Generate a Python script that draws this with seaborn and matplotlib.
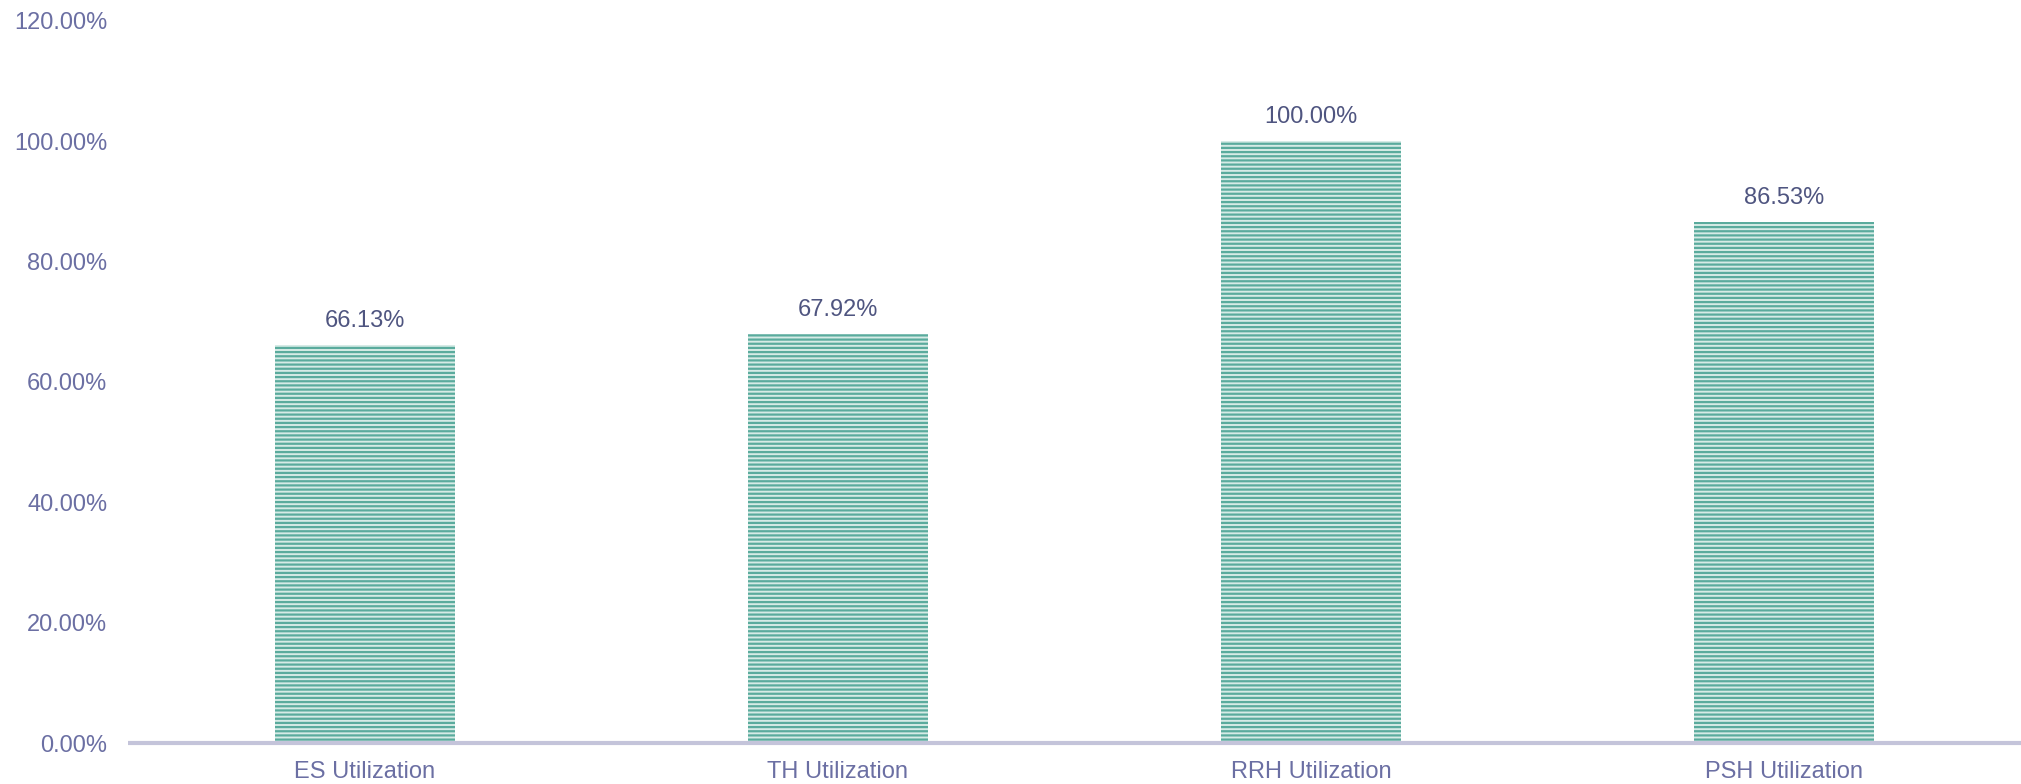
import matplotlib
matplotlib.use("Agg")
import matplotlib.pyplot as plt
import seaborn as sns
import pandas as pd

categories = ["ES Utilization", "TH Utilization", "RRH Utilization", "PSH Utilization"]
values = [0.6613, 0.6792, 1.0000, 0.8653]
value_labels = ["66.13%", "67.92%", "100.00%", "86.53%"]
y_ticks = [0.0, 0.2, 0.4, 0.6, 0.8, 1.0, 1.2]
y_tick_labels = ["0.00%", "20.00%", "40.00%", "60.00%", "80.00%", "100.00%", "120.00%"]

sns.set_theme(style="white")
plt.rcParams['font.family'] = ['Liberation Sans', 'DejaVu Sans']
plt.rcParams['hatch.linewidth'] = 1.6

df = pd.DataFrame({"cat": categories, "val": values})

fig = plt.figure(figsize=(20.21, 7.84), dpi=100)
ax = fig.add_axes([128 / 2021, 41 / 784, 1 - 128 / 2021, (743 - 21) / 784])

sns.barplot(data=df, x="cat", y="val", ax=ax, color="#d6ebe6", width=0.38,
            saturation=1, edgecolor="#5aab9d", linewidth=0)
for p in ax.patches:
    p.set_hatch("----")
    p.set_edgecolor("#5aab9d")
    p.set_linewidth(0)

tick_color = "#6b6fa3"
label_color = "#4f5580"
for i, (v, lab) in enumerate(zip(values, value_labels)):
    ax.annotate(lab, (i, v), xytext=(0, 24), textcoords="offset pixels",
                ha="center", va="center", fontsize=17, color=label_color)

ax.set_ylim(0, 1.2)
ax.set_yticks(y_ticks)
ax.set_yticklabels(y_tick_labels)
ax.set_xlim(-0.5, 3.5)
ax.set_xlabel("")
ax.set_ylabel("")
ax.tick_params(axis="both", length=0, labelsize=17, colors=tick_color)
ax.tick_params(axis="x", pad=13)
ax.tick_params(axis="y", pad=15)
for s in ["top", "right", "left"]:
    ax.spines[s].set_visible(False)
ax.spines["bottom"].set_color("#c4c4da")
ax.spines["bottom"].set_linewidth(3)
ax.spines["bottom"].set_capstyle("butt")
ax.grid(False)

fig.savefig("out.png", dpi=100)
